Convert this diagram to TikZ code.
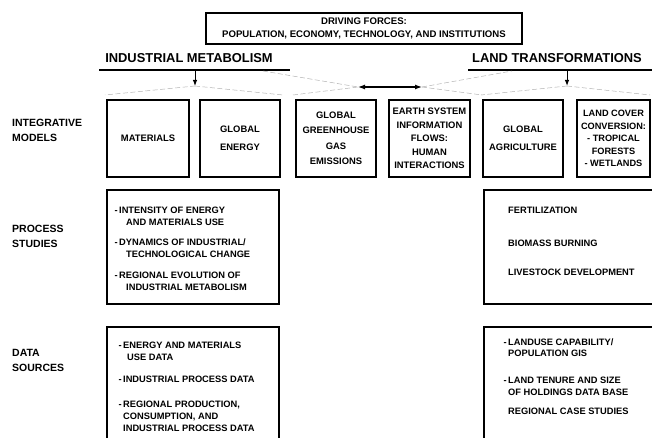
\documentclass[tikz,border=0pt]{standalone}
\usepackage{fontspec}
\setmainfont{Liberation Sans}
\usetikzlibrary{arrows.meta}

\tikzset{
  box/.style={draw, line width=1.1pt, align=center, inner sep=1pt,
    font=\bfseries\fontsize{9.4}{13.5}\selectfont},
  listtext/.style={align=left, inner sep=0pt, anchor=north west,
    font=\bfseries\fontsize{9.3}{12}\selectfont},
  rowlabel/.style={align=left, anchor=west, inner sep=0pt,
    font=\bfseries\fontsize{10.5}{15}\selectfont},
  heading/.style={inner sep=0pt, font=\bfseries\fontsize{12.9}{15}\selectfont},
  faint/.style={gray!60, line width=0.5pt, dash pattern=on 5pt off 2.5pt},
  tip/.style={-{Latex[length=6pt,width=4.5pt]}, line width=1pt},
}

\begin{document}
\begin{tikzpicture}[x=1pt,y=-1pt]
        \useasboundingbox (0,0) rectangle (652,438);
        \clip (0,0) rectangle (652,438);

        % Driving forces
        \node[box, minimum width=316pt, minimum height=31pt, font=\bfseries\fontsize{9.6}{13}\selectfont] (drive) at (364,28.5)
          {DRIVING FORCES:\\POPULATION, ECONOMY, TECHNOLOGY, AND INSTITUTIONS};

        % Headings
        \node[heading] (im) at (189,58) {INDUSTRIAL METABOLISM};
        \node[heading] (lt) at (557,58) {LAND TRANSFORMATIONS};

        % Define points
        \coordinate (imL) at (99,70);
        \coordinate (imR) at (290,70);
        \coordinate (ltL) at (468,70);
        \coordinate (ltR) at (655,70);
        \coordinate (imTop) at (195,70);
        \coordinate (imTip) at (195,86);
        \coordinate (ltTop) at (567,70);
        \coordinate (ltTip) at (567,86);
        \coordinate (barL) at (358,87);
        \coordinate (barR) at (422,87);

        % Underlines and arrows
        \draw[line width=1.2pt] (imL) -- (imR);
        \draw[line width=1.2pt] (ltL) -- (ltR);
        \draw[tip] (imTop) -- (imTip);
        \draw[tip] (ltTop) -- (ltTip);
        \draw[{Latex[length=7pt,width=5pt]}-{Latex[length=7pt,width=5pt]}, line width=1.2pt] (barL) -- (barR);

        % Faint fan lines
        \draw[faint] (imTip) -- (105,95);
        \draw[faint] (imTip) -- (283,95);
        \draw[faint] (ltTip) -- (481,95);
        \draw[faint] (ltTip) -- (650,95);
        \draw[faint] (263,71) -- (barL);
        \draw[faint] (293,95) -- (barL);
        \draw[faint] (barR) -- (512,71);
        \draw[faint] (barR) -- (482,95);

        % Integrative models
        \node[box, minimum width=82pt, minimum height=77pt] (mat) at (148,138.5) {MATERIALS};
        \node[box, minimum width=80pt, minimum height=77pt, font=\bfseries\fontsize{9.4}{18}\selectfont] (energy) at (240,138.5) {GLOBAL\\ENERGY};
        \node[box, minimum width=80pt, minimum height=77pt, font=\bfseries\fontsize{9.4}{15.5}\selectfont] (ghg) at (336,138.5) {GLOBAL\\GREENHOUSE\\GAS\\EMISSIONS};
        \node[box, minimum width=81pt, minimum height=77pt] (earth) at (429.5,138.5) {EARTH SYSTEM\\INFORMATION\\FLOWS:\\HUMAN\\INTERACTIONS};
        \node[box, minimum width=80pt, minimum height=77pt, font=\bfseries\fontsize{9.4}{18}\selectfont] (agri) at (523,138.5) {GLOBAL\\AGRICULTURE};
        \node[box, minimum width=73pt, minimum height=77pt, font=\bfseries\fontsize{9.2}{12.5}\selectfont] (cover) at (613.5,138.5) {LAND COVER\\CONVERSION:\\- TROPICAL\\FORESTS\\- WETLANDS};

        % Row labels
        \node[rowlabel] (rowA) at (12,130.5) {INTEGRATIVE\\MODELS};
        \node[rowlabel] (rowB) at (12,236) {PROCESS\\STUDIES};
        \node[rowlabel] (rowC) at (12,360.5) {DATA\\SOURCES};

        % Process studies
        \node[draw, line width=1.1pt, minimum width=172pt, minimum height=114pt] (procIM) at (193,247) {};
        \node[draw, line width=1.1pt, minimum width=178pt, minimum height=114pt] (procLT) at (573,247) {};
        \node[listtext] (procIMtxt) at (119,206.5)
          {\llap{-\,}INTENSITY OF ENERGY\\\hspace*{7pt}AND MATERIALS USE\\[8pt]
           \llap{-\,}DYNAMICS OF INDUSTRIAL/\\\hspace*{7pt}TECHNOLOGICAL CHANGE\\[9.5pt]
           \llap{-\,}REGIONAL EVOLUTION OF\\\hspace*{7pt}INDUSTRIAL METABOLISM};
        \node[listtext] (procLTtxt) at (508,206.5)
          {FERTILIZATION\\[21pt]BIOMASS BURNING\\[17pt]LIVESTOCK DEVELOPMENT};

        % Data sources
        \node[draw, line width=1.1pt, minimum width=172pt, minimum height=140pt] (dataIM) at (193,397) {};
        \node[draw, line width=1.1pt, minimum width=178pt, minimum height=140pt] (dataLT) at (573,397) {};
        \node[listtext] (dataIMtxt) at (123,341.5)
          {\llap{-\,}ENERGY AND MATERIALS\\\hspace*{4pt}USE DATA\\[10pt]
           \llap{-\,}INDUSTRIAL PROCESS DATA\\[13pt]
           \llap{-\,}REGIONAL PRODUCTION,\\CONSUMPTION, AND\\INDUSTRIAL PROCESS DATA};
        \node[listtext, font=\bfseries\fontsize{9.3}{11.5}\selectfont] (dataLTtxt) at (508,338.5)
          {\llap{-\,}LANDUSE CAPABILITY/\\POPULATION GIS\\[15.5pt]
           \llap{-\,}LAND TENURE AND SIZE\\OF HOLDINGS DATA BASE\\[7.5pt]
           REGIONAL CASE STUDIES};

\end{tikzpicture}
\end{document}
